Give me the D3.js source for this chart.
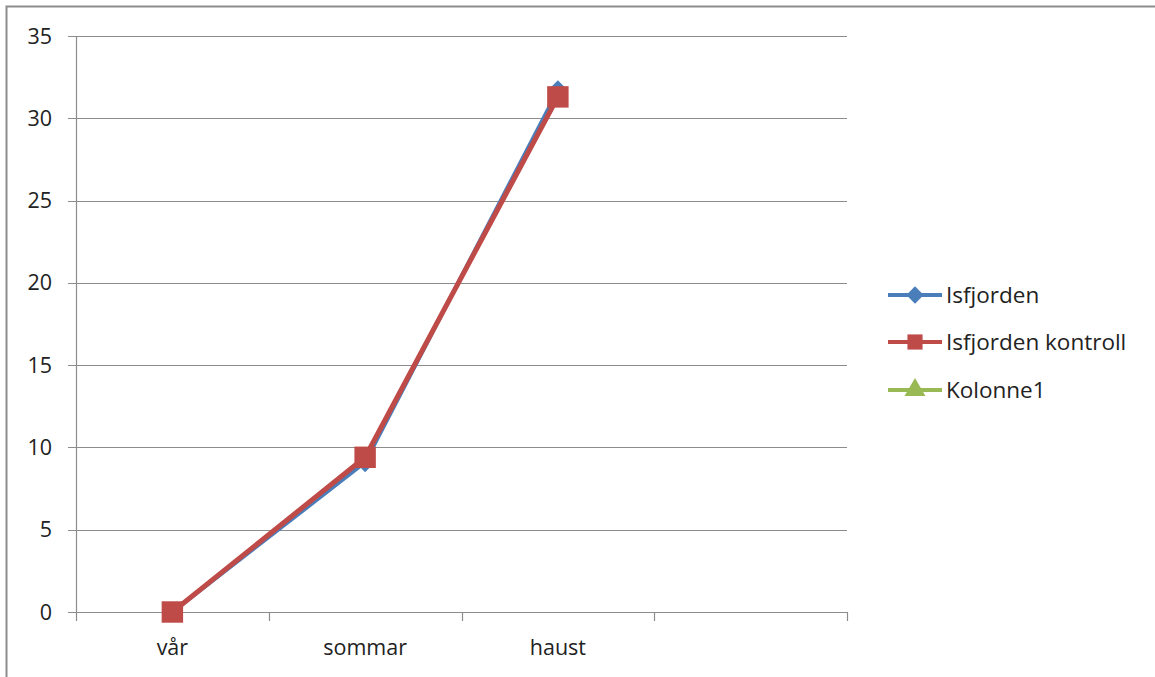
<!DOCTYPE html>
<html><head><meta charset="utf-8">
<script src="https://cdn.jsdelivr.net/npm/d3@7"></script>
<style>body{margin:0;background:#fff;}svg{display:block;font-family:"Open Sans","Noto Sans",sans-serif;}</style>
</head><body>
<svg id="c" width="1155" height="677"></svg>
<script>
const categories = ["vår", "sommar", "haust", ""];
const isfjorden = [0, 9.1, 31.7, null];
const isfjordenKontroll = [0, 9.4, 31.3, null];
const kolonne1 = [null, null, null, null];
const yTicks = [0, 5, 10, 15, 20, 25, 30, 35];
const seriesNames = ["Isfjorden", "Isfjorden kontroll", "Kolonne1"];
const seriesColors = ["#4A7EBB", "#BE4B48", "#98B954"];

const rDiamond = {draw(ctx, size) { const r = Math.sqrt(size / 2); ctx.moveTo(0, -r); ctx.lineTo(r, 0); ctx.lineTo(0, r); ctx.lineTo(-r, 0); ctx.closePath(); }};
const seriesShapes = [rDiamond, d3.symbolSquare, d3.symbolTriangle];

const svg = d3.select("#c");
svg.append("rect").attr("x", 6.5).attr("y", 6.5).attr("width", 1160).attr("height", 690)
  .attr("fill", "none").attr("stroke", "#8c8c8c").attr("stroke-width", 2);

const m = {l: 76, r: 847, t: 36, b: 612};
const x = d3.scaleBand().domain(categories.map((c, i) => i)).range([m.l, m.r]).paddingInner(0).paddingOuter(0);
const y = d3.scaleLinear().domain([0, 35]).range([m.b, m.t]);
const gridColor = "#8c8c8c";
const fs = 21.5;

svg.append("g").selectAll("line").data(yTicks).join("line")
  .attr("x1", m.l - 8).attr("x2", m.r).attr("y1", d => Math.round(y(d)) + 0.5).attr("y2", d => Math.round(y(d)) + 0.5)
  .attr("stroke", gridColor).attr("stroke-width", 1.2);
svg.append("line").attr("x1", m.l + 0.5).attr("x2", m.l + 0.5).attr("y1", m.t).attr("y2", m.b)
  .attr("stroke", gridColor).attr("stroke-width", 1.2);
svg.append("g").selectAll("text").data(yTicks).join("text")
  .attr("x", 52).attr("y", d => y(d)).attr("dy", "0.35em").attr("text-anchor", "end")
  .attr("font-size", fs).attr("fill", "#222").text(d => d);
const xt = categories.map((c, i) => x(i)).concat([m.r]);
svg.append("g").selectAll("line").data(xt).join("line")
  .attr("x1", d => Math.round(d) + 0.5).attr("x2", d => Math.round(d) + 0.5).attr("y1", m.b).attr("y2", m.b + 9)
  .attr("stroke", gridColor).attr("stroke-width", 1.2);
svg.append("g").selectAll("text").data(categories).join("text")
  .attr("x", (d, i) => x(i) + x.bandwidth() / 2).attr("y", 655).attr("text-anchor", "middle")
  .attr("font-size", fs).attr("fill", "#222").text(d => d);

const cx = i => x(i) + x.bandwidth() / 2;
const line = d3.line().defined(d => d != null).x((d, i) => cx(i)).y(d => y(d));
const allSeries = [isfjorden, isfjordenKontroll, kolonne1];
const markerSizes = [200, 460, 200];
allSeries.forEach((s, k) => {
  svg.append("path").attr("d", line(s)).attr("fill", "none")
    .attr("stroke", seriesColors[k]).attr("stroke-width", k === 1 ? 5 : 4).attr("stroke-linejoin", "round");
  svg.append("g").selectAll("path").data(s.map((v, i) => [v, i]).filter(d => d[0] != null)).join("path")
    .attr("transform", d => `translate(${cx(d[1])},${y(d[0])})`)
    .attr("d", d3.symbol().type(seriesShapes[k]).size(markerSizes[k])).attr("fill", seriesColors[k]);
});

const ly = [295, 342, 390];
seriesNames.forEach((n, k) => {
  const g = svg.append("g").attr("transform", `translate(0,${ly[k]})`);
  g.append("line").attr("x1", 888).attr("x2", 942).attr("y1", 0).attr("y2", 0)
    .attr("stroke", seriesColors[k]).attr("stroke-width", 4);
  g.append("path").attr("transform", "translate(915,0)")
    .attr("d", d3.symbol().type(seriesShapes[k]).size([150, 230, 190][k])).attr("fill", seriesColors[k]);
  g.append("text").attr("x", 946).attr("y", 0).attr("dy", "0.35em").attr("font-size", 22.5)
    .attr("fill", "#222").text(n);
});
</script>
</body></html>
